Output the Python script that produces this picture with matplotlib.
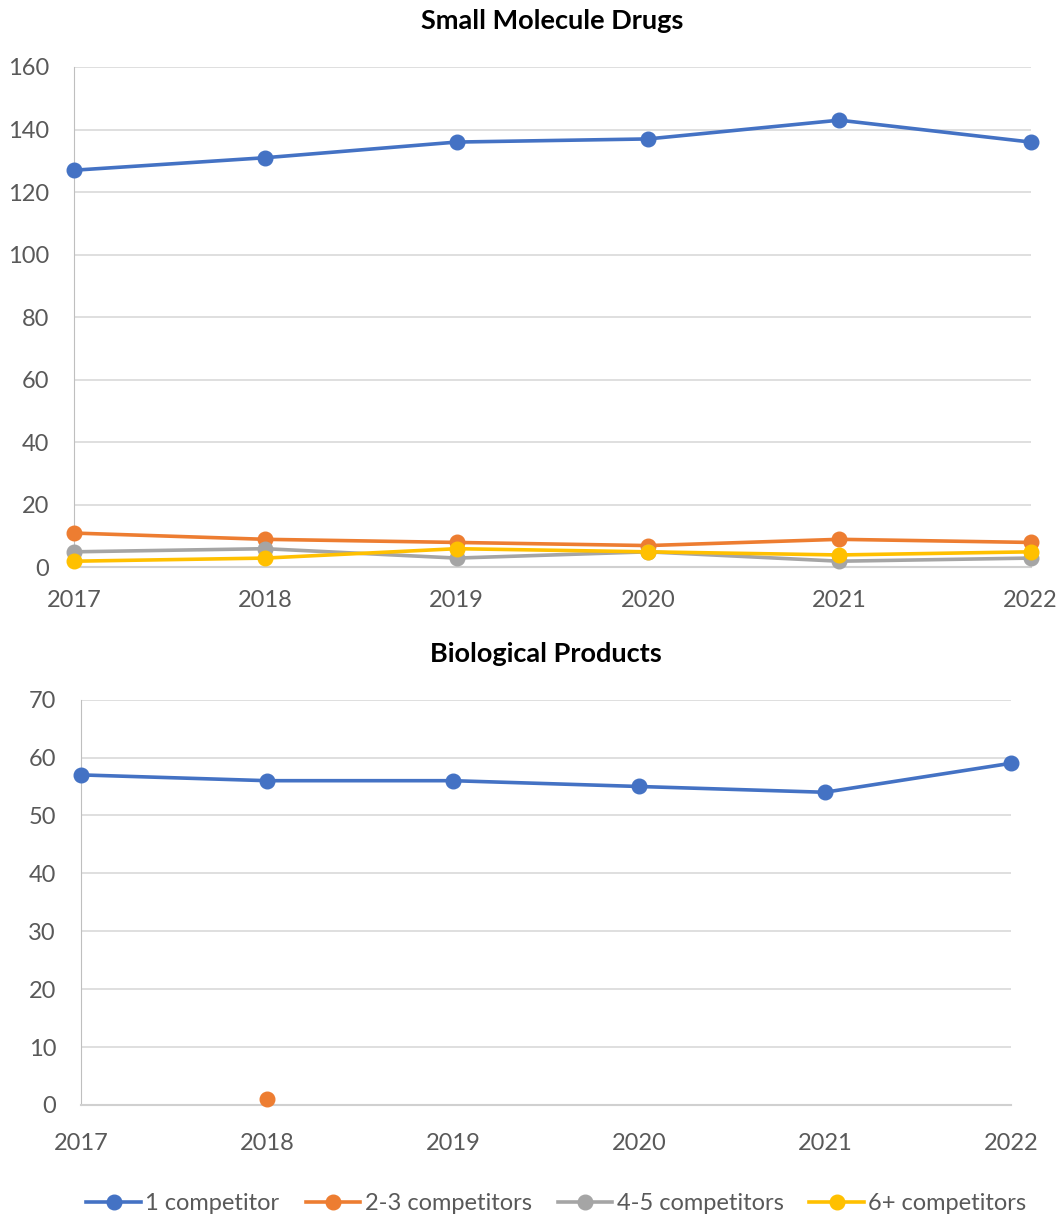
import matplotlib
matplotlib.use("Agg")
import matplotlib.pyplot as plt
import numpy as np

years = [2017, 2018, 2019, 2020, 2021, 2022]
series_names = ["1 competitor", "2-3 competitors", "4-5 competitors", "6+ competitors"]
colors = ["#4472C4", "#ED7D31", "#A5A5A5", "#FFC000"]

# Small molecule drugs
small_1 = [127, 131, 136, 137, 143, 136]
small_23 = [11, 9, 8, 7, 9, 8]
small_45 = [5, 6, 3, 5, 2, 3]
small_6p = [2, 3, 6, 5, 4, 5]

# Biological products (missing values are gaps)
bio_1 = [57, 56, 56, 55, 54, 59]
bio_23 = [np.nan, 1, np.nan, np.nan, np.nan, np.nan]
bio_45 = [np.nan] * 6
bio_6p = [np.nan] * 6

plt.rcParams["font.family"] = ["Lato", "DejaVu Sans"]

fig = plt.figure(figsize=(10.62, 12.18), dpi=100)
ax1 = fig.add_axes([0.0697, 0.5341, 0.9008, 0.4109])
ax2 = fig.add_axes([0.0763, 0.0928, 0.8754, 0.3328])


def style(ax, ymax, step, title, xpad):
    ax.set_xlim(2017, 2022)
    ax.set_ylim(0, ymax)
    ax.set_yticks(np.arange(0, ymax + 1, step))
    ax.set_xticks(years)
    ax.grid(axis="y", color="#D9D9D9", linewidth=1.2)
    ax.set_axisbelow(True)
    for s in ["top", "right"]:
        ax.spines[s].set_visible(False)
    ax.spines["left"].set_color("#BFBFBF")
    ax.spines["bottom"].set_color("#D0D0D0")
    ax.spines["bottom"].set_linewidth(1.5)
    ax.tick_params(length=0, labelsize=17, labelcolor="#595959")
    ax.tick_params(axis="x", pad=xpad)
    ax.tick_params(axis="y", pad=18)
    ax.set_title(title, fontsize=19.5, fontweight="bold", pad=27)


for vals, c, name in zip([small_1, small_23, small_45, small_6p], colors, series_names):
    ax1.plot(years, vals, color=c, linewidth=2.6, marker="o", markersize=10.5,
             clip_on=False, label=name, zorder=3)
style(ax1, 160, 20, "Small Molecule Drugs", 16)

for vals, c, name in zip([bio_1, bio_23, bio_45, bio_6p], colors, series_names):
    ax2.plot(years, vals, color=c, linewidth=2.6, marker="o", markersize=10.5,
             clip_on=False, label=name, zorder=3)
style(ax2, 70, 10, "Biological Products", 20)

handles, labels = ax1.get_legend_handles_labels()
fig.legend(handles, labels, loc="center", bbox_to_anchor=(0.524, 0.012), ncol=4,
           frameon=False, fontsize=17, labelcolor="#595959", handlelength=2.3,
           handletextpad=0.2, columnspacing=1.1)

fig.savefig("out.png", dpi=100)
